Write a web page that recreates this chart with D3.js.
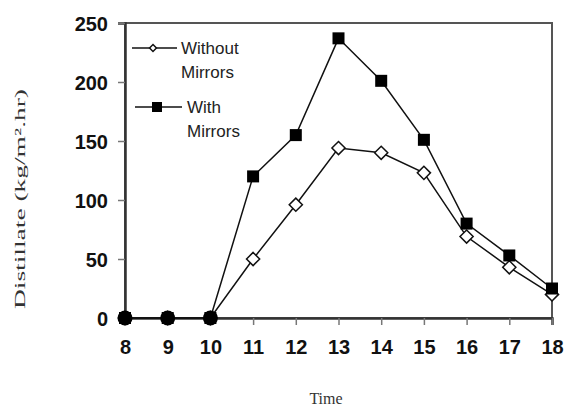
<!DOCTYPE html>
<html lang="en">
<head>
<meta charset="UTF-8">
<title>Distillate vs Time</title>
<script src="https://cdn.jsdelivr.net/npm/d3@7"></script>
<style>
body { margin: 0; background: #fff; }
</style>
</head>
<body>
<div id="output"></div>
<script>

var hours = [8, 9, 10, 11, 12, 13, 14, 15, 16, 17, 18];
var withoutMirrors = [0, 0, 0, 50, 96, 144, 140, 123, 69, 43, 20];
var withMirrors = [0, 0, 0, 120, 155, 237, 201, 151, 80, 53, 25];
var yTicks = [0, 50, 100, 150, 200, 250];

var w = 565, h = 408;
var plotLeft = 125, plotRight = 552, plotTop = 23, plotBottom = 318;

var svg = d3.select("#output").append("svg")
    .attr("width", w)
    .attr("height", h);

var x = d3.scaleLinear().domain([8, 18]).range([plotLeft, plotRight]);
var y = d3.scaleLinear().domain([0, 250]).range([plotBottom, plotTop]);

// frame
svg.append("rect")
    .attr("x", plotLeft).attr("y", plotTop)
    .attr("width", plotRight - plotLeft).attr("height", plotBottom - plotTop)
    .attr("fill", "none").attr("stroke", "#555").attr("stroke-width", 2);

var yAxis = svg.append("g")
    .attr("transform", "translate(" + plotLeft + ",0)")
    .call(d3.axisLeft(y).tickValues(yTicks).tickSize(7).tickPadding(10));

var xAxis = svg.append("g")
    .attr("transform", "translate(0," + plotBottom + ")")
    .call(d3.axisBottom(x).tickValues(hours).tickSize(7).tickPadding(10));

[yAxis, xAxis].forEach(function (g) {
    g.select(".domain").attr("stroke", "#333").attr("stroke-width", 2.5);
    g.selectAll(".tick line").attr("stroke", "#777").attr("stroke-width", 1.5);
    g.selectAll(".tick text")
        .attr("fill", "#111")
        .style("font-family", "Liberation Sans, Arial, sans-serif")
        .style("font-weight", "bold")
        .style("font-size", "20px");
});
xAxis.selectAll(".tick text").attr("dy", "0.95em");
yAxis.selectAll(".tick text").attr("dy", "0.36em");

// axis titles
svg.append("text")
    .attr("transform", "translate(25,199) rotate(-90)")
    .attr("text-anchor", "middle")
    .attr("textLength", 220)
    .attr("lengthAdjust", "spacingAndGlyphs")
    .style("font-family", "Liberation Serif, Times New Roman, serif")
    .style("font-size", "15px")
    .attr("fill", "#333")
    .text("Distillate (kg/m\u00b2.hr)");

svg.append("text")
    .attr("x", 326).attr("y", 404)
    .attr("text-anchor", "middle")
    .style("font-family", "Liberation Serif, Times New Roman, serif")
    .style("font-size", "16px")
    .attr("fill", "#333")
    .text("Time");

var line = d3.line()
    .x(function (d, i) { return x(hours[i]); })
    .y(function (d) { return y(d); });

var diamond = d3.symbol().type(d3.symbolDiamond2).size(110);

// without mirrors
svg.append("path")
    .datum(withoutMirrors)
    .attr("d", line)
    .attr("fill", "none").attr("stroke", "#111").attr("stroke-width", 1.5);

svg.selectAll(".dia").data(withoutMirrors).enter().append("path")
    .attr("class", "dia")
    .attr("d", diamond)
    .attr("transform", function (d, i) { return "translate(" + x(hours[i]) + "," + y(d) + ")"; })
    .attr("fill", "#fff").attr("stroke", "#111").attr("stroke-width", 1.5);

// with mirrors
svg.append("path")
    .datum(withMirrors)
    .attr("d", line)
    .attr("fill", "none").attr("stroke", "#111").attr("stroke-width", 1.5);

svg.selectAll(".sq").data(withMirrors).enter().append("rect")
    .attr("class", "sq")
    .attr("x", function (d, i) { return x(hours[i]) - 6; })
    .attr("y", function (d) { return y(d) - 6; })
    .attr("width", 12).attr("height", 12)
    .attr("fill", "#000");

// points where both series are zero look like solid dots
var zeroIdx = hours.map(function (d, i) { return i; })
    .filter(function (i) { return withMirrors[i] === 0 && withoutMirrors[i] === 0; });

svg.selectAll(".zero").data(zeroIdx).enter()
    .append("circle")
    .attr("class", "zero")
    .attr("cx", function (i) { return x(hours[i]); })
    .attr("cy", function (i) { return y(withMirrors[i]); })
    .attr("r", 7.5)
    .attr("fill", "#000");

// legend
var legend = svg.append("g")
    .style("font-family", "Liberation Sans, Arial, sans-serif")
    .style("font-size", "17px")
    .attr("fill", "#222");

legend.append("line").attr("x1", 132).attr("x2", 177).attr("y1", 48).attr("y2", 48)
    .attr("stroke", "#111").attr("stroke-width", 1.5);
legend.append("path").attr("d", d3.symbol().type(d3.symbolDiamond2).size(30))
    .attr("transform", "translate(153,48)")
    .attr("fill", "#fff").attr("stroke", "#111").attr("stroke-width", 1.5);
legend.append("text").attr("x", 181).attr("y", 54).text("Without");
legend.append("text").attr("x", 181).attr("y", 78).text("Mirrors");

legend.append("line").attr("x1", 135).attr("x2", 182).attr("y1", 107).attr("y2", 107)
    .attr("stroke", "#111").attr("stroke-width", 1.5);
legend.append("rect").attr("x", 152).attr("y", 102).attr("width", 10).attr("height", 10)
    .attr("fill", "#000");
legend.append("text").attr("x", 187).attr("y", 113).text("With");
legend.append("text").attr("x", 187).attr("y", 137).text("Mirrors");

</script>
</body>
</html>
